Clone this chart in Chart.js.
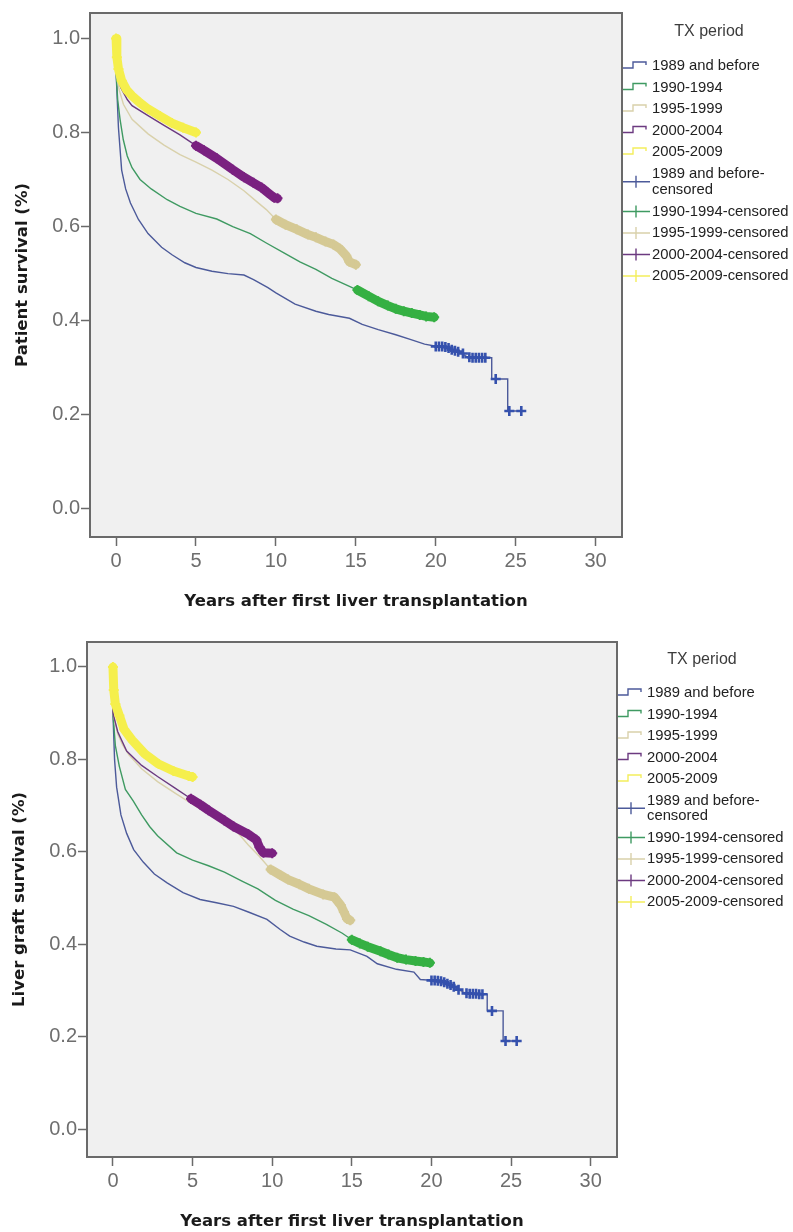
<!DOCTYPE html>
<html>
<head>
<meta charset="utf-8">
<script src="https://cdn.jsdelivr.net/npm/chart.js@4.4.1/dist/chart.umd.min.js"></script>
<style>
  body { margin: 0; background: #fff; }
  .box { position: absolute; left: 0; width: 793px; height: 616px; }
</style>
</head>
<body>
<div class="box" style="top:0"><canvas id="patientChart" width="793" height="616"></canvas></div>
<div class="box" style="top:616px"><canvas id="graftChart" width="793" height="616"></canvas></div>
<script>
const periods = ['1989 and before', '1990-1994', '1995-1999', '2000-2004', '2005-2009'];
const censoredLabels = ['1989 and before-\ncensored', '1990-1994-censored', '1995-1999-censored', '2000-2004-censored', '2005-2009-censored'];
const xTicks = [0, 5, 10, 15, 20, 25, 30];
const yTicks = [0, 0.2, 0.4, 0.6, 0.8, 1.0];

// patient survival, [years, survival]
const patient1989 = [[0,1],[0,0.93],[0.15,0.81],[0.35,0.72],[0.6,0.68],[0.9,0.65],[1.4,0.615],[2.0,0.585],[2.85,0.556],[3.5,0.54],[4.3,0.523],[5.0,0.513],[6.0,0.505],[7.0,0.50],[8.0,0.497],[8.6,0.487],[9.5,0.47],[10.0,0.459],[11.2,0.435],[12.5,0.42],[13.3,0.413],[14.6,0.405],[15.4,0.392],[16.4,0.381],[17.5,0.37],[18.4,0.36],[19.3,0.35],[20.1,0.345],[20.8,0.342],[21.6,0.331],[22.0,0.322],[23.5,0.321],[23.5,0.276],[24.5,0.276],[24.5,0.208],[25.45,0.208]];
const patient1990 = [[0,1],[0,0.93],[0.1,0.87],[0.25,0.828],[0.45,0.785],[0.7,0.75],[1.0,0.725],[1.5,0.70],[2.2,0.68],[3.2,0.657],[4.0,0.643],[5.0,0.628],[6.3,0.616],[7.3,0.60],[8.4,0.585],[9.4,0.565],[10.5,0.544],[11.5,0.525],[12.5,0.509],[13.5,0.49],[14.6,0.473],[15.1,0.465],[16.4,0.441],[17.5,0.425],[18.5,0.416],[19.9,0.407]];
const patient1995 = [[0,1],[0,0.93],[0.2,0.89],[0.46,0.86],[1.0,0.828],[2.0,0.797],[3.0,0.773],[4.0,0.753],[5.0,0.737],[6.0,0.72],[7.0,0.70],[8.0,0.676],[8.8,0.653],[9.4,0.636],[10.0,0.615],[11.0,0.598],[12.0,0.583],[12.5,0.577],[13.6,0.562],[14.4,0.538],[14.6,0.525],[15.0,0.519]];
const patient2000 = [[0,1],[0,0.93],[0.3,0.895],[0.7,0.87],[1.0,0.857],[2.0,0.836],[3.0,0.815],[4.0,0.795],[5.0,0.772],[5.5,0.762],[6.3,0.745],[7.3,0.721],[8.0,0.705],[8.6,0.693],[9.1,0.683],[9.5,0.672],[9.9,0.661],[10.1,0.66]];
const patient2005 = [[0,1.0],[0.05,0.96],[0.15,0.935],[0.35,0.91],[0.67,0.89],[1.0,0.878],[1.5,0.863],[2.0,0.85],[2.75,0.835],[3.5,0.82],[4.2,0.81],[5.0,0.80]];

const patientCens1989 = [[20.0,0.345],[20.2,0.345],[20.4,0.345],[20.6,0.344],[20.8,0.342],[21.0,0.338],[21.2,0.336],[21.4,0.334],[21.7,0.33],[22.1,0.322],[22.3,0.321],[22.5,0.321],[22.7,0.321],[22.9,0.321],[23.1,0.321],[23.75,0.276],[24.6,0.208],[25.35,0.208]];
const patientCens1990 = [[15.1,0.465],[15.8,0.452],[16.4,0.441],[17.0,0.432],[17.5,0.425],[18.0,0.42],[18.5,0.416],[19.0,0.412],[19.4,0.409],[19.9,0.407]];
const patientCens1995 = [[10.0,0.615],[10.6,0.604],[11.3,0.594],[12.0,0.583],[12.5,0.577],[13.1,0.568],[13.6,0.562],[14.0,0.553],[14.4,0.538],[14.6,0.525],[15.0,0.519]];
const patientCens2000 = [[5.0,0.772],[5.5,0.762],[6.3,0.745],[7.3,0.721],[8.0,0.705],[8.6,0.693],[9.1,0.683],[9.5,0.672],[9.9,0.661],[10.1,0.66]];
const patientCens2005 = [[0,1.0],[0.05,0.96],[0.15,0.935],[0.35,0.91],[0.67,0.89],[1.0,0.878],[1.5,0.863],[2.0,0.85],[2.75,0.835],[3.5,0.82],[4.2,0.81],[5.0,0.80]];

// liver graft survival, [years, survival]
const graft1989 = [[0,1],[0,0.90],[0.1,0.80],[0.23,0.74],[0.5,0.68],[0.86,0.64],[1.3,0.605],[1.9,0.578],[2.6,0.552],[3.4,0.533],[4.4,0.512],[5.47,0.497],[6.5,0.49],[7.57,0.482],[8.5,0.47],[9.67,0.454],[10.5,0.432],[11.1,0.418],[12.0,0.405],[12.8,0.396],[14.0,0.39],[14.9,0.388],[15.95,0.374],[16.6,0.358],[17.8,0.346],[18.9,0.34],[19.3,0.324],[20.5,0.321],[21.0,0.315],[21.5,0.306],[22.1,0.295],[23.5,0.292],[23.5,0.256],[24.5,0.256],[24.5,0.191],[25.4,0.191]];
const graft1990 = [[0,1],[0,0.90],[0.15,0.83],[0.4,0.785],[0.78,0.735],[1.28,0.71],[1.8,0.68],[2.3,0.655],[2.8,0.635],[4.0,0.598],[5.0,0.582],[6.0,0.57],[7.0,0.556],[8.1,0.537],[9.1,0.52],[10.2,0.495],[11.3,0.476],[12.3,0.462],[13.4,0.443],[14.4,0.424],[15.0,0.41],[16.0,0.395],[16.8,0.385],[17.85,0.371],[19.0,0.364],[19.9,0.36]];
const graft1995 = [[0,1],[0,0.90],[0.3,0.855],[0.6,0.832],[1.0,0.81],[1.8,0.78],[2.8,0.752],[3.9,0.727],[5.0,0.703],[6.0,0.682],[7.0,0.662],[7.57,0.652],[8.5,0.615],[9.2,0.59],[9.9,0.562],[11.0,0.54],[12.3,0.52],[13.2,0.508],[13.9,0.502],[14.3,0.485],[14.5,0.47],[14.7,0.455],[14.9,0.452]];
const graft2000 = [[0,1],[0,0.90],[0.3,0.86],[0.86,0.818],[1.8,0.787],[2.8,0.763],[3.9,0.738],[4.9,0.715],[6.0,0.69],[7.0,0.668],[7.57,0.655],[8.5,0.638],[9.0,0.626],[9.2,0.61],[9.45,0.598],[10.0,0.597]];
const graft2005 = [[0,1.0],[0.05,0.95],[0.15,0.92],[0.4,0.895],[0.7,0.865],[1.2,0.842],[2.0,0.812],[2.87,0.79],[3.8,0.775],[4.76,0.764],[5.0,0.762]];

const graftCens1989 = [[20.0,0.322],[20.2,0.322],[20.4,0.321],[20.6,0.32],[20.8,0.318],[21.0,0.315],[21.2,0.312],[21.4,0.308],[21.7,0.302],[22.2,0.294],[22.4,0.293],[22.6,0.293],[22.8,0.293],[23.0,0.292],[23.2,0.292],[23.8,0.256],[24.65,0.191],[25.35,0.191]];
const graftCens1990 = [[15.0,0.41],[15.5,0.402],[16.0,0.395],[16.8,0.385],[17.3,0.378],[17.85,0.371],[18.4,0.367],[19.0,0.364],[19.5,0.362],[19.9,0.36]];
const graftCens1995 = [[9.9,0.562],[10.5,0.55],[11.0,0.54],[11.7,0.53],[12.3,0.52],[13.2,0.508],[13.9,0.502],[14.3,0.485],[14.5,0.47],[14.7,0.455],[14.9,0.452]];
const graftCens2000 = [[4.9,0.715],[5.5,0.702],[6.0,0.69],[7.0,0.668],[7.57,0.655],[8.5,0.638],[9.0,0.626],[9.2,0.61],[9.45,0.598],[10.0,0.597]];
const graftCens2005 = [[0,1.0],[0.05,0.95],[0.15,0.92],[0.4,0.895],[0.7,0.865],[1.2,0.842],[2.0,0.812],[2.87,0.79],[3.8,0.775],[4.76,0.764],[5.0,0.762]];

const lineColors = ['#4c5a9a', '#3f9a62', '#d9d1ab', '#6c3a80', '#f4ee5c'];
const censorColors = ['#3551ad', '#35b043', '#d5c994', '#7a2180', '#f5ef4c'];

const toXY = pts => pts.map(p => ({x: p[0], y: p[1]}));

const framePlugin = {
  id: 'frame',
  beforeDraw: (chart) => {
    const {ctx, chartArea: {left, top, width, height}} = chart;
    ctx.save();
    ctx.fillStyle = '#f0f0f0';
    ctx.fillRect(left, top, width, height);
    ctx.restore();
  },
  afterDatasetsDraw: (chart) => {
    const {ctx, chartArea: {left, top, width, height}} = chart;
    ctx.save();
    ctx.strokeStyle = '#6a6a6a';
    ctx.lineWidth = 2;
    ctx.strokeRect(left, top, width, height);
    ctx.restore();
  }
};

const legendPlugin = {
  id: 'kmLegend',
  afterDraw: (chart, args, o) => {
    const ctx = chart.ctx;
    ctx.save();
    ctx.font = '16px "Liberation Sans", Arial, sans-serif';
    ctx.fillStyle = '#3c3c3c';
    ctx.textAlign = 'center';
    ctx.textBaseline = 'middle';
    ctx.fillText('TX period', o.titleX, o.titleY);
    ctx.font = '14.8px "Liberation Sans", Arial, sans-serif';
    ctx.textAlign = 'left';
    ctx.fillStyle = '#222';
    let y = o.firstY;
    const items = periods.map((t, i) => ({text: t, color: lineColors[i], cens: false}))
      .concat(censoredLabels.map((t, i) => ({text: t, color: lineColors[i], cens: true})));
    items.forEach(item => {
      const lines = item.text.split('\n');
      const mid = y + (lines.length - 1) * o.lineGap / 2;
      const x0 = o.iconX;
      ctx.strokeStyle = item.color;
      ctx.lineWidth = 1.4;
      ctx.beginPath();
      if (item.cens) {
        ctx.moveTo(x0, mid); ctx.lineTo(x0 + 27, mid);
        ctx.moveTo(x0 + 13, mid - 6); ctx.lineTo(x0 + 13, mid + 6);
      } else {
        ctx.moveTo(x0, mid + 2); ctx.lineTo(x0 + 10, mid + 2);
        ctx.lineTo(x0 + 10, mid - 4); ctx.lineTo(x0 + 23, mid - 4);
        ctx.lineTo(x0 + 23, mid - 1);
      }
      ctx.stroke();
      lines.forEach((t, k) => ctx.fillText(t, o.textX, y + k * o.lineGap));
      y += o.rowH + (lines.length - 1) * o.lineGap;
    });
    ctx.restore();
  }
};

function chartConfig(curves, censored, yTitle, box) {
  const datasets = [];
  curves.forEach((c, i) => {
    datasets.push({
      label: periods[i],
      data: toXY(c),
      showLine: true,
      borderColor: lineColors[i],
      borderWidth: 1.4,
      pointRadius: 0,
      order: 14 - i,
    });
  });
  censored.forEach((c, i) => {
    const band = i > 0;
    datasets.push({
      label: censoredLabels[i],
      data: toXY(c),
      showLine: band,
      borderColor: censorColors[i],
      borderWidth: band ? 9 : 0,
      borderCapStyle: 'round',
      borderJoinStyle: 'round',
      pointStyle: 'cross',
      pointRadius: 5,
      pointBorderWidth: band ? 2 : 2.6,
      pointBorderColor: censorColors[i],
      order: 5 - i,
    });
  });

  const tickFont = {family: '"Liberation Sans", Arial, sans-serif', size: 20};
  const titleFont = {family: '"DejaVu Sans", Verdana, sans-serif', size: 16.5, weight: 'bold'};

  return {
    type: 'scatter',
    data: {datasets},
    options: {
      responsive: false,
      animation: false,
      devicePixelRatio: 1,
      events: [],
      layout: {padding: {left: 0, top: box.top, right: box.right, bottom: 0}},
      elements: {line: {tension: 0}},
      scales: {
        x: {
          type: 'linear',
          min: -1.63,
          max: 31.65,
          afterFit: (scale) => { scale.height = box.xHeight; },
          afterBuildTicks: (scale) => { scale.ticks = xTicks.map(v => ({value: v})); },
          grid: {drawOnChartArea: false, tickLength: 9, tickColor: '#6a6a6a', tickWidth: 1.5},
          border: {display: false},
          ticks: {font: tickFont, color: '#6e6e6e', padding: 3, autoSkip: false, maxRotation: 0},
          title: {display: true, text: 'Years after first liver transplantation', font: titleFont, color: '#1a1a1a', padding: {top: 0, bottom: box.xTitlePad}},
        },
        y: {
          type: 'linear',
          min: -0.06,
          max: 1.054,
          afterFit: (scale) => { scale.width = box.left; },
          afterBuildTicks: (scale) => { scale.ticks = yTicks.map(v => ({value: v})); },
          grid: {drawOnChartArea: false, tickLength: 9, tickColor: '#6a6a6a', tickWidth: 1.5},
          border: {display: false},
          ticks: {font: tickFont, color: '#6e6e6e', padding: 1, callback: (v) => v.toFixed(1)},
          title: {display: true, text: yTitle, font: titleFont, color: '#1a1a1a', padding: {top: box.yTitlePad, bottom: 0}},
        },
      },
      plugins: {
        legend: {display: false},
        tooltip: {enabled: false},
        kmLegend: box.legend,
      },
    },
    plugins: [framePlugin, legendPlugin],
  };
}

new Chart(document.getElementById('patientChart').getContext('2d'), chartConfig(
  [patient1989, patient1990, patient1995, patient2000, patient2005],
  [patientCens1989, patientCens1990, patientCens1995, patientCens2000, patientCens2005],
  'Patient survival (%)',
  {top: 13, right: 171, left: 90, xHeight: 79, xTitlePad: 4, yTitlePad: 13,
   legend: {titleX: 709, titleY: 32, iconX: 623, textX: 652, firstY: 66, rowH: 21.5, lineGap: 16.5}}
));

new Chart(document.getElementById('graftChart').getContext('2d'), chartConfig(
  [graft1989, graft1990, graft1995, graft2000, graft2005],
  [graftCens1989, graftCens1990, graftCens1995, graftCens2000, graftCens2005],
  'Liver graft survival (%)',
  {top: 26, right: 176, left: 87, xHeight: 75, xTitlePad: 0, yTitlePad: 10,
   legend: {titleX: 702, titleY: 44, iconX: 618, textX: 647, firstY: 77, rowH: 21.5, lineGap: 15.5}}
));
</script>
</body>
</html>
